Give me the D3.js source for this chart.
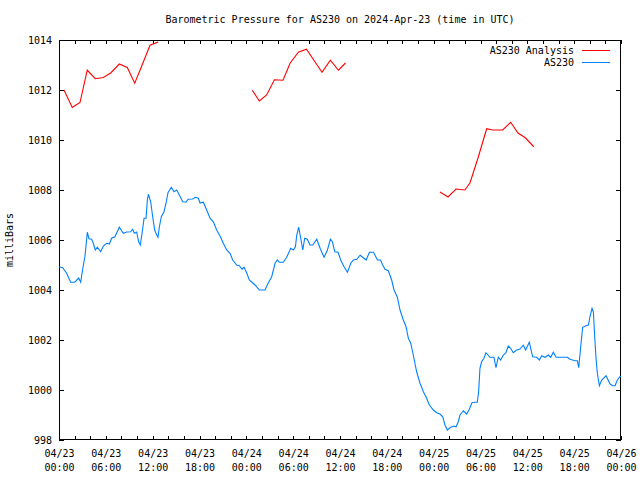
<!DOCTYPE html>
<html>
<head>
<meta charset="utf-8">
<script src="https://cdn.jsdelivr.net/npm/d3@7"></script>
<style>
  html, body { margin: 0; padding: 0; background: #fff; }
  svg { display: block; }
  text { font-family: "DejaVu Sans Mono", "Liberation Mono", monospace; fill: #000; }
</style>
</head>
<body>
<svg id="chart" width="640" height="480"></svg>
<script>
// ---- DATA ----
const startTime = "2024-04-23T00:00:00Z";
const titleText = "Barometric Pressure for AS230 on 2024-Apr-23 (time in UTC)";
const yLabel = "milliBars";
const seriesNames = ["AS230 Analysis", "AS230"];
const yTicks = [998, 1000, 1002, 1004, 1006, 1008, 1010, 1012, 1014];

// Analysis (red): hours since start, null = gap
const analysisHours = [0.64, 1.70, 2.18, 2.69, 3.62, 4.65, 5.67, 6.62, 7.73, 8.75, 9.70, 10.60, 11.66, 12.70,
  null,
  24.77, 25.66, 26.60, 27.60, 28.70, 29.60, 30.66, 31.70, 32.70, 33.70, 34.76, 35.80, 36.70,
  null,
  48.81, 49.84, 50.86, 52.00, 52.65, 53.70, 54.79, 55.56, 56.84, 57.87, 58.80, 59.74, 60.82];
const analysisValues = [1012.0, 1011.3, 1011.4, 1011.5, 1012.79, 1012.45, 1012.5, 1012.68, 1013.04, 1012.9, 1012.27, 1012.96, 1013.79, 1013.92,
  null,
  1011.99, 1011.56, 1011.8, 1012.41, 1012.39, 1013.07, 1013.51, 1013.63, 1013.17, 1012.71, 1013.19, 1012.79, 1013.08,
  null,
  1007.92, 1007.72, 1008.04, 1008.0, 1008.28, 1009.3, 1010.45, 1010.4, 1010.4, 1010.71, 1010.28, 1010.09, 1009.73];

// Observed (blue): hours since start
const obsHours = [0.0, 0.13, 0.47, 0.98, 1.49, 2.01, 2.52, 2.78, 3.03, 3.33, 3.63, 3.84, 4.18, 4.40, 4.65, 4.91, 5.34, 5.68,
  6.10, 6.45, 6.75, 7.17, 7.73, 8.24, 8.67, 9.18, 9.44, 9.65, 9.95, 10.21, 10.42, 10.64, 10.90, 11.15, 11.32, 11.45,
  11.75, 12.00, 12.26, 12.51, 12.68, 12.86, 13.11, 13.45, 13.71, 13.96, 14.39, 14.73, 15.08, 15.42, 15.85, 16.27,
  16.53, 17.13, 17.47, 17.85, 18.07, 18.49, 18.92, 19.35, 19.77, 20.20, 20.63, 21.05, 21.48, 21.91,
  22.25, 22.76, 23.10, 23.45, 23.70, 24.04, 24.38, 24.73, 25.11, 25.67, 26.39, 26.82, 27.25, 27.68, 27.98, 28.23,
  28.74, 29.17, 29.69, 30.03, 30.29, 30.46, 30.71, 30.97, 31.23, 31.48, 31.82, 32.16, 32.51, 33.02, 33.45, 33.96,
  34.39, 34.77, 35.03, 35.33, 35.75, 36.09, 36.52, 36.95, 37.38, 37.72, 38.15, 38.58, 38.92, 39.35, 39.77, 40.29,
  40.80, 41.20, 41.47, 41.77, 42.19, 42.62, 42.92, 43.35, 43.69, 44.11, 44.46, 44.76, 45.06, 45.39, 45.82, 46.25,
  46.68, 47.02, 47.45, 47.96, 48.39, 48.81, 49.16, 49.45, 49.75, 50.09, 50.52, 50.86, 51.16, 51.37, 51.80, 52.23,
  52.57, 52.90, 53.29, 53.59, 53.76, 53.93, 54.14, 54.44, 54.70, 55.21, 55.72, 55.98, 56.28, 56.58, 56.92, 57.26,
  57.56, 57.86, 58.20, 58.63, 59.05, 59.48, 59.78, 60.25, 60.68, 61.20, 61.54, 61.84, 62.26, 62.69, 62.99, 63.33,
  63.68, 64.40, 65.13, 65.47, 66.11, 66.41, 66.58, 66.75, 66.92, 67.09, 67.52, 67.82, 68.04, 68.29, 68.46, 68.63,
  68.80, 68.97, 69.23, 69.53, 70.09, 70.60, 70.94, 71.24, 71.54, 71.80, 72.0];
const obsValues = [1004.92, 1004.92, 1004.89, 1004.67, 1004.31, 1004.31, 1004.48, 1004.31, 1004.83, 1005.36, 1006.31, 1006.05, 1006.03, 1005.87, 1005.6, 1005.71, 1005.53, 1005.76,
  1005.87, 1005.84, 1006.07, 1006.13, 1006.51, 1006.27, 1006.32, 1006.33, 1006.43, 1006.27, 1006.32, 1005.93, 1005.8, 1006.27, 1006.87, 1006.87, 1007.6, 1007.83,
  1007.53, 1006.93, 1006.4, 1006.2, 1006.11, 1006.53, 1006.93, 1007.13, 1007.47, 1007.89, 1008.11, 1007.93, 1008.0, 1007.8, 1007.53, 1007.51,
  1007.63, 1007.64, 1007.71, 1007.67, 1007.48, 1007.51, 1007.2, 1006.87, 1006.73, 1006.4, 1006.16, 1005.87, 1005.6, 1005.47,
  1005.2, 1005.0, 1004.97, 1004.83, 1004.91, 1004.69, 1004.4, 1004.31, 1004.2, 1004.0, 1004.0, 1004.29, 1004.53, 1005.07, 1005.2, 1005.11,
  1005.11, 1005.31, 1005.67, 1005.6, 1005.73, 1006.2, 1006.51, 1006.07, 1005.6, 1006.07, 1006.03, 1005.8, 1005.8, 1006.03, 1005.67, 1005.31,
  1005.6, 1006.03, 1005.93, 1005.53, 1005.51, 1005.2, 1004.93, 1004.71, 1005.07, 1005.2, 1005.23, 1005.39, 1005.31, 1005.2, 1005.51, 1005.51,
  1005.2, 1005.2, 1005.0, 1004.83, 1004.77, 1004.4, 1004.0, 1003.71, 1003.2, 1002.8, 1002.53, 1002.07, 1001.87, 1001.4, 1000.73, 1000.27,
  999.93, 999.73, 999.4, 999.2, 999.09, 999.04, 998.93, 998.6, 998.4, 998.49, 998.56, 998.53, 998.73, 999.0, 999.17, 999.04,
  999.23, 999.49, 999.51, 999.51, 999.93, 1000.87, 1001.13, 1001.27, 1001.49, 1001.31, 1001.31, 1000.89, 1001.31, 1001.2, 1001.4, 1001.49,
  1001.76, 1001.67, 1001.49, 1001.6, 1001.64, 1001.79, 1001.6, 1001.91, 1001.33, 1001.31, 1001.2, 1001.37, 1001.31, 1001.4, 1001.31, 1001.51,
  1001.31, 1001.31, 1001.31, 1001.23, 1001.17, 1001.17, 1000.89, 1001.43, 1002.0, 1002.51, 1002.57, 1002.6, 1002.96, 1003.27, 1003.13, 1002.13,
  1001.27, 1000.67, 1000.17, 1000.4, 1000.57, 1000.24, 1000.17, 1000.17, 1000.4, 1000.51, 1000.55];

const seriesColors = ["#ff0000", "#0080ff"];

// ---- CHART ----
const svg = d3.select("#chart");
const margin = {left: 59, right: 19, top: 40, bottom: 40};
const W = 640, H = 480;
const x0 = margin.left, x1 = W - margin.right, y0 = margin.top, y1 = H - margin.bottom;

const t0 = new Date(startTime);
const hr = h => new Date(t0.getTime() + h * 3600000);

const x = d3.scaleUtc().domain([hr(0), hr(72)]).range([x0, x1]);
const y = d3.scaleLinear().domain([998, 1014]).range([y1, y0]);

const xTickVals = d3.range(0, 73, 2).map(hr);
const fmtDate = d3.utcFormat("%m/%d");
const fmtTime = d3.utcFormat("%H:%M");

// axes
const gB = svg.append("g").attr("transform", `translate(0,${y1})`)
  .call(d3.axisBottom(x).tickValues(xTickVals).tickSizeInner(-4).tickSizeOuter(0).tickPadding(8).tickFormat(""));
const gT = svg.append("g").attr("transform", `translate(0,${y0})`)
  .call(d3.axisTop(x).tickValues(xTickVals).tickSizeInner(-4).tickSizeOuter(0).tickFormat(""));
const gL = svg.append("g").attr("transform", `translate(${x0},0)`)
  .call(d3.axisLeft(y).tickValues(yTicks).tickSizeInner(-5).tickSizeOuter(0).tickPadding(7).tickFormat(d3.format("d")));
const gR = svg.append("g").attr("transform", `translate(${x1},0)`)
  .call(d3.axisRight(y).tickValues(yTicks).tickSizeInner(-5).tickSizeOuter(0).tickFormat(""));

[gB, gT, gL, gR].forEach(g => {
  g.selectAll("path.domain").remove();
  g.selectAll("line").attr("stroke", "#000").attr("shape-rendering", "crispEdges");
});
gL.selectAll("text").attr("font-size", 10).attr("font-family", '"DejaVu Sans Mono", monospace').attr("fill", "#000");

// two-line x labels every 6 hours
gB.selectAll(".tick").each(function(d) {
  const h = Math.round((d - t0) / 3600000);
  if (h % 6 !== 0) return;
  const t = d3.select(this).append("text")
    .attr("text-anchor", "middle").attr("font-size", 10)
    .attr("font-family", '"DejaVu Sans Mono", monospace').attr("fill", "#000");
  t.append("tspan").attr("x", 0).attr("y", 17).text(fmtDate(d));
  t.append("tspan").attr("x", 0).attr("y", 31).text(fmtTime(d));
});

// frame
svg.append("rect").attr("x", x0 + 0.5).attr("y", y0 + 0.5)
  .attr("width", x1 - x0 - 1).attr("height", y1 - y0 - 1)
  .attr("fill", "none").attr("stroke", "#000").attr("stroke-width", 1)
  .attr("shape-rendering", "crispEdges");

// lines
const line = d3.line()
  .defined(d => d[1] !== null)
  .x(d => x(hr(d[0])))
  .y(d => y(d[1]));

const plot = svg.append("g");
plot.append("path")
  .datum(obsHours.map((h, i) => [h, obsValues[i]]))
  .attr("fill", "none").attr("stroke", seriesColors[1]).attr("stroke-width", 1.1)
  .attr("d", line);
plot.append("path")
  .datum(analysisHours.map((h, i) => [h, analysisValues[i]]))
  .attr("fill", "none").attr("stroke", seriesColors[0]).attr("stroke-width", 1.1)
  .attr("d", line);

// title
svg.append("text").attr("x", (x0 + x1) / 2).attr("y", 23)
  .attr("text-anchor", "middle").attr("font-size", 10).text(titleText);

// y label
svg.append("text").attr("transform", `translate(13,${(y0 + y1) / 2}) rotate(-90)`)
  .attr("text-anchor", "middle").attr("font-size", 10).text(yLabel);

// legend
const leg = svg.append("g");
seriesNames.forEach((name, i) => {
  const ly = 50 + i * 12;
  leg.append("text").attr("x", 574).attr("y", ly + 4)
    .attr("text-anchor", "end").attr("font-size", 10).text(name);
  leg.append("line").attr("x1", 582).attr("x2", 610).attr("y1", ly + 0.5).attr("y2", ly + 0.5)
    .attr("stroke", seriesColors[i]).attr("stroke-width", 1);
});
</script>
</body>
</html>
